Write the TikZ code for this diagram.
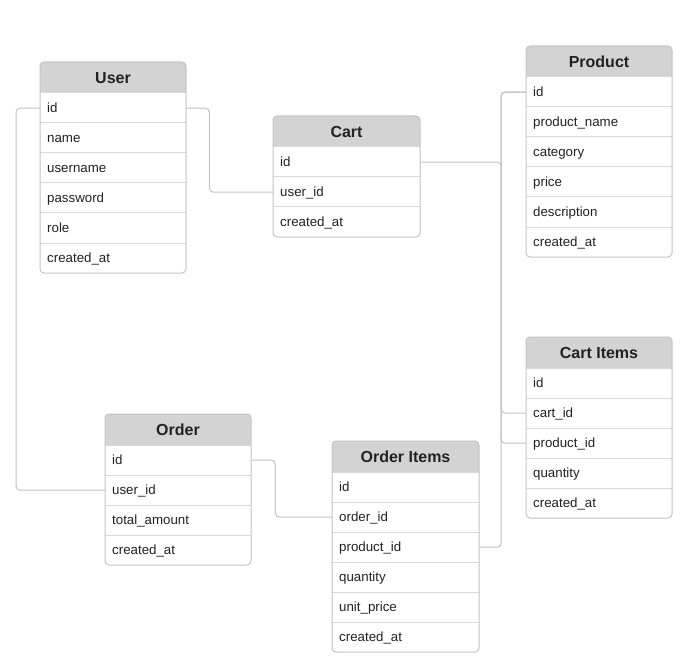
\documentclass[tikz,border=0pt]{standalone}
\usepackage{fontspec}
\setmainfont{Liberation Sans}
\definecolor{hdr}{HTML}{D3D3D3}
\definecolor{bord}{HTML}{C4C4C4}
\definecolor{sepc}{HTML}{D8D8D8}
\definecolor{connc}{HTML}{C2C2C2}
\definecolor{txt}{HTML}{222222}
\tikzset{
  hdrtext/.style={anchor=center, font=\bfseries\fontsize{16}{19}\selectfont, text=txt, inner sep=0pt, text height=13.5pt, text depth=2pt},
  rowtext/.style={anchor=north west, minimum height=30pt, text width=#1, align=left, inner xsep=7pt, inner ysep=0pt, text height=12pt, text depth=2.5pt, font=\fontsize{13.3}{16}\selectfont, text=txt},
  connector/.style={draw=connc, line width=1pt, rounded corners=4pt},
  sepline/.style={draw=sepc, line width=1pt},
  boxborder/.style={draw=bord, line width=1pt, rounded corners=4pt},
}
% #1 name, #2 x, #3 y, #4 width, #5 number of rows, #6 title, #7 rows key/label
\newcommand\ertable[7]{%
  \pgfmathsetmacro\tb{#3+31+30*#5}%
  \pgfmathsetmacro\tw{#4-14}%
  \fill[white, rounded corners=4pt] (#2,#3) rectangle ({#2+#4},\tb);
  \begin{scope}
    \clip[rounded corners=4pt] (#2,#3) rectangle ({#2+#4},\tb);
    \fill[hdr] (#2,#3) rectangle ({#2+#4},{#3+31});
  \end{scope}
  \node[hdrtext] (#1) at ({#2+#4/2},{#3+15.5}) {#6};
  \foreach \k/\t [count=\i] in {#7} {
    \draw[sepline] (#2,{#3+1+30*\i}) -- ({#2+#4},{#3+1+30*\i});
    \node[rowtext=\tw pt] (#1-\k) at (#2,{#3+1+30*\i}) {\t};
  }
  \draw[boxborder] (#2,#3) rectangle ({#2+#4},\tb);
}
\begin{document}
\begin{tikzpicture}[x=1pt,y=-1pt]
  \fill[white] (0,0) rectangle (695,668);
  \useasboundingbox (0,0) rectangle (695,668);

  \ertable{user}{40}{62}{146}{6}{User}{id/id, name/name, uname/username, pw/password, role/role, cat/created\_at}
  \ertable{cart}{273}{116}{147}{3}{Cart}{id/id, uid/user\_id, cat/created\_at}
  \ertable{product}{526}{46}{146}{6}{Product}{id/id, pname/product\_name, cat2/category, price/price, desc/description, cat/created\_at}
  \ertable{cartitems}{526}{337}{146}{5}{Cart Items}{id/id, cid/cart\_id, pid/product\_id, qty/quantity, cat/created\_at}
  \ertable{order}{105}{414}{146}{4}{Order}{id/id, uid/user\_id, total/total\_amount, cat/created\_at}
  \ertable{orderitems}{332}{441}{147}{6}{Order Items}{id/id, oid/order\_id, pid/product\_id, qty/quantity, up/unit\_price, cat/created\_at}

  \draw[connector] (user-id.west) -- ++(-24,0) |- (order-uid.west);
  \draw[connector] (user-id.east) -- ++(23,0) |- (cart-uid.west);
  \draw[connector] (cart-id.east) -- ++(81,0) |- (cartitems-cid.west);
  \draw[connector] (product-id.west) -- ++(-25,0) |- (cartitems-pid.west);
  \draw[connector] (product-id.west) -- ++(-25,0) |- (orderitems-pid.east);
  \draw[connector] (order-id.east) -- ++(24,0) |- (orderitems-oid.west);
\end{tikzpicture}
\end{document}
